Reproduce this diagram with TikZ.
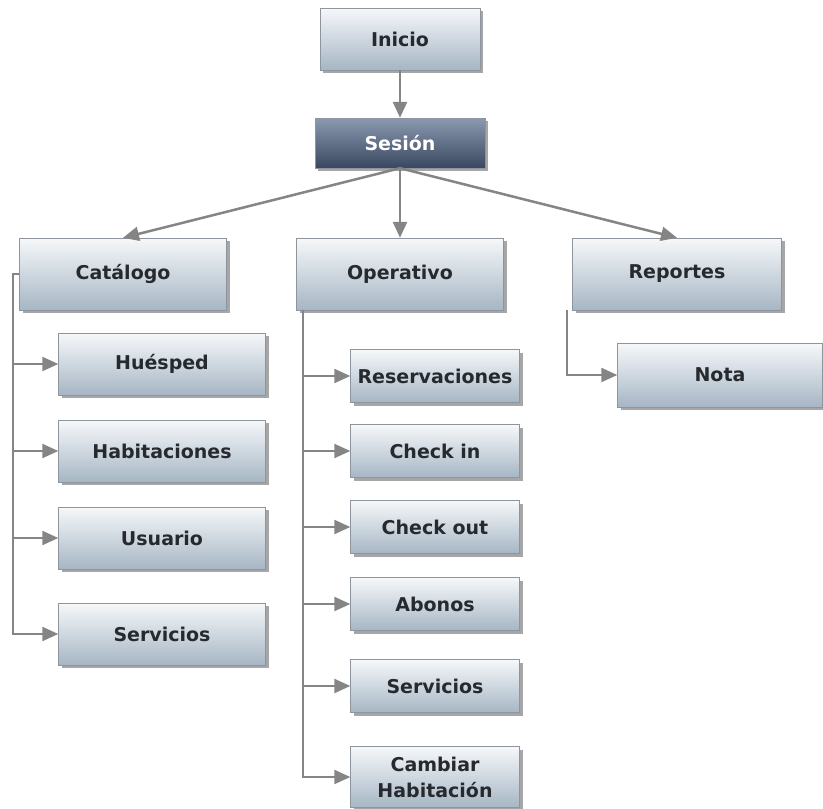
\documentclass[tikz,border=0pt]{standalone}
\usepackage{fontspec}
\setmainfont{DejaVu Sans}
\usetikzlibrary{arrows.meta,shadows}

\definecolor{boxtop}{HTML}{F6F8FA}
\definecolor{boxbot}{HTML}{A6B6C4}
\definecolor{boxline}{HTML}{8E959C}
\definecolor{boxtext}{HTML}{262A2E}
\definecolor{sestop}{HTML}{8A9AB0}
\definecolor{sesbot}{HTML}{3A4760}
\definecolor{linegray}{HTML}{858585}

\begin{document}
\begin{tikzpicture}[x=1pt, y=-1pt,
    box/.style={draw=boxline, top color=boxtop, bottom color=boxbot, minimum width=207pt, minimum height=62pt,
      font=\fontsize{19}{26}\selectfont\bfseries, text=boxtext, align=center,
      drop shadow={shadow xshift=3pt, shadow yshift=-3pt, fill=black, opacity=0.35}},
    sub/.style={box, minimum width=169pt, minimum height=53pt, inner xsep=2pt},
    arr/.style={-{Triangle[length=16pt, width=14pt]}, line width=2.5pt, draw=linegray},
    link/.style={-{Triangle[length=16pt, width=14pt]}, line width=2.2pt, draw=linegray},
  ]
  \useasboundingbox (0,0) rectangle (823,809);

  % top
  \node[box, minimum width=160pt] (inicio) at (400,39) {Inicio};
  \node[box, minimum width=170pt, minimum height=50pt, top color=sestop, bottom color=sesbot, text=white] (sesion) at (400,143) {Sesión};

  % main modules
  \node[box, minimum height=72pt] (cat) at (123,274) {Catálogo};
  \node[box, minimum height=72pt] (op) at (400,274) {Operativo};
  \node[box, minimum width=209pt, minimum height=72pt] (rep) at (677,274) {Reportes};

  % catalogo
  \node[box] (hue) at (162,364) {Huésped};
  \node[box] (hab) at (162,451) {Habitaciones};
  \node[box] (usu) at (162,538) {Usuario};
  \node[box] (servc) at (162,634) {Servicios};

  % operativo
  \node[sub] (res) at (435,376) {Reservaciones};
  \node[sub] (cin) at (435,451) {Check in};
  \node[sub] (cout) at (435,527) {Check out};
  \node[sub] (abo) at (435,604) {Abonos};
  \node[sub] (servo) at (435,686) {Servicios};
  \node[sub, minimum height=61pt] (camb) at (435,777) {Cambiar\\Habitación};

  % reportes
  \node[box, minimum width=205pt, minimum height=64pt] (nota) at (720,375) {Nota};

  \draw[arr] (inicio) -- (sesion);
  \draw[arr] (sesion.south) -- (cat.north);
  \draw[arr] (sesion.south) -- (op.north);
  \draw[arr] (sesion.south) -- (rep.north);

  \coordinate (catT) at ([xshift=-6pt]cat.west);
  \foreach \n in {hue,hab,usu,servc}
    \draw[link] (cat.west) -- (catT) |- (\n.west);

  \coordinate (opT) at ([xshift=7pt]op.south west);
  \foreach \n in {res,cin,cout,abo,servo,camb}
    \draw[link] (opT) |- (\n.west);

  \coordinate (repT) at ([xshift=-5pt]rep.south west);
  \draw[link] (repT) |- (nota.west);
\end{tikzpicture}
\end{document}
